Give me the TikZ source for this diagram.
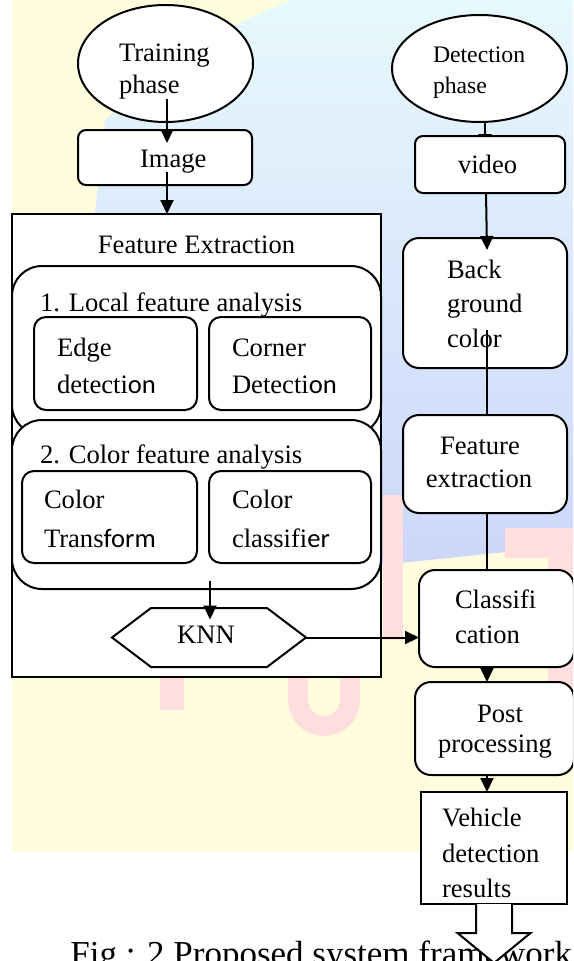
\documentclass[tikz,border=0pt]{standalone}
\usepackage{fontspec}
\setmainfont{Liberation Serif}
\newfontfamily\sansend{Carlito}
\usetikzlibrary{arrows.meta,shapes.geometric}

\pgfdeclarelayer{wm}
\pgfdeclarelayer{under}
\pgfsetlayers{wm,under,main}

\definecolor{wmyellow}{RGB}{255,253,222}
\definecolor{wmcyan}{RGB}{230,249,252}
\definecolor{wmblue}{RGB}{205,214,250}
\definecolor{wmpink}{RGB}{255,222,222}

\newcommand\mainsz{\fontsize{26.6}{32}\selectfont}
\newcommand\smallsz{\fontsize{23.7}{28}\selectfont}
\newcommand\capsz{\fontsize{35}{40}\selectfont}

\tikzset{
  every node/.style={inner sep=0pt, outer sep=0pt},
  outline/.style={draw=black, line width=2pt, fill=white},
  rbox/.style={outline, rectangle, rounded corners=#1},
  rbox/.default=16pt,
  conn/.style={line width=2pt},
  arr/.style={conn, -{Triangle[length=14pt,width=13pt]}},
  lbl/.style={anchor=base west, font=\mainsz},
  clbl/.style={anchor=base, font=\mainsz},
}

\begin{document}
\begin{tikzpicture}[x=1pt,y=-1pt]
\useasboundingbox (0,0) rectangle (573,961);
\clip (0,0) rectangle (573,961);

% faint logo behind the chart
\begin{pgfonlayer}{wm}
  \fill[wmyellow] (12,0) rectangle (573,852);
  \shade[top color=wmcyan, bottom color=wmblue]
    (95,214) -- (105,120) -- (190,45) -- (290,0) -- (573,0) -- (573,545)
    -- (381,565) -- (381,214) -- cycle;
  \fill[wmpink] (160,677) rectangle (184,710);
  \draw[wmpink, line width=20pt] (298,672) -- (298,700)
    arc[start angle=180, end angle=0, radius=26] -- (350,672);
  \fill[wmpink] (383,495) rectangle (403,640);
  \fill[wmpink] (505,528) rectangle (573,558);
  \fill[wmpink] (548,558) rectangle (573,715);
\end{pgfonlayer}

% ---------- training branch ----------
\node[outline, ellipse, minimum width=175pt, minimum height=117pt] (train) at (165.5,63.5) {};
\node[lbl] (trainA) at (119,61) {Training};
\node[lbl] (trainB) at (119,93) {phase};

\node[rbox=8pt, minimum width=174pt, minimum height=55pt] (image) at (165,157.5) {};
\node[lbl] (imageT) at (140,167) {Image};

\node[outline, rectangle, minimum width=369pt, minimum height=463pt] (fe) at (196.5,445.5) {};
\node[clbl] (feT) at (196.5,253) {Feature Extraction};

\node[rbox=30pt, minimum width=369pt, minimum height=169pt] (local) at (196.5,350.5) {};
\node[lbl] (localT) at (40,311) {1. Local feature analysis};
\node[rbox=12pt, minimum width=163pt, minimum height=93pt] (edge) at (115.5,363.5) {};
\node[lbl] (edgeA) at (57,356) {Edge};
\node[lbl] (edgeB) at (57,393) {detecti{\sansend on}};
\node[rbox=12pt, minimum width=162pt, minimum height=93pt] (corner) at (290,363.5) {};
\node[lbl] (cornerA) at (232,356) {Corner};
\node[lbl] (cornerB) at (232,393) {Detecti{\sansend on}};

\node[rbox=30pt, minimum width=369pt, minimum height=169pt] (colour) at (196.5,504.5) {};
\node[lbl] (colourT) at (40,463) {2. Color feature analysis};
\node[rbox=12pt, minimum width=175pt, minimum height=92pt] (transf) at (109.5,517) {};
\node[lbl] (transfA) at (44,508) {Color};
\node[lbl] (transfB) at (44,547) {Trans{\sansend form}};
\node[rbox=12pt, minimum width=162pt, minimum height=92pt] (classr) at (290,517) {};
\node[lbl] (classrA) at (232,508) {Color};
\node[lbl] (classrB) at (232,547) {classifi{\sansend er}};

\node[minimum width=194pt, minimum height=59pt] (knnframe) at (209,637.5) {};
\filldraw[outline] (knnframe.west) -- ([xshift=39pt]knnframe.north west)
  -- ([xshift=-39pt]knnframe.north east) -- (knnframe.east)
  -- ([xshift=-39pt]knnframe.south east) -- ([xshift=39pt]knnframe.south west) -- cycle;
\node[clbl] (knn) at (206,643) {KNN};

% ---------- detection branch ----------
\node[outline, ellipse, minimum width=175pt, minimum height=107pt] (detect) at (479.5,68.5) {};
\node[anchor=base west, font=\smallsz] (detectA) at (433,62) {Detection};
\node[anchor=base west, font=\smallsz] (detectB) at (433,93) {phase};

\node[rbox=8pt, minimum width=150pt, minimum height=57pt] (video) at (490,164.5) {};
\node[lbl] (videoT) at (458,173) {video};

\node[rbox=16pt, minimum width=164pt, minimum height=130pt] (back) at (485,303) {};
\node[lbl] (backA) at (447,278) {Back};
\node[lbl] (backB) at (447,312) {ground};
\node[lbl] (backC) at (447,347) {color};

\node[rbox=16pt, minimum width=164pt, minimum height=98pt] (featx) at (485,464) {};
\node[clbl] (featxA) at (480,454) {Feature};
\node[clbl] (featxB) at (479,487) {extraction};

\node[rbox=16pt, minimum width=155pt, minimum height=97pt] (classif) at (496.5,618.5) {};
\node[lbl] (classifA) at (455,608) {Classifi};
\node[lbl] (classifB) at (455,643) {cation};

\node[rbox=16pt, minimum width=159pt, minimum height=93pt] (post) at (494.5,728.5) {};
\node[clbl] (postA) at (500,722) {Post};
\node[clbl] (postB) at (495,752) {processing};

\node[outline, rectangle, minimum width=146pt, minimum height=112pt] (vehicle) at (494,848) {};
\node[lbl] (vehA) at (442,826) {Vehicle};
\node[lbl] (vehB) at (442,862) {detection};
\node[lbl] (vehC) at (442,897) {results};

% caption, partly covered by the output arrow
\node[anchor=base east, font=\capsz] (caption) at (572,965) {Fig : 2 Proposed system framework};

% output block arrow
\filldraw[outline] (vehicle.south) ++(-18,0) -- ++(0,29) -- ++(-18.5,0)
  -- ++(36.5,30) -- ++(36.5,-30) -- ++(-18.5,0) -- ++(0,-29);

% ---------- connectors ----------
\begin{pgfonlayer}{under}
  \draw[arr] ([xshift=5.5pt,yshift=-29.5pt]detect.center) -- ([xshift=-5pt,yshift=-12pt]video.north);
\end{pgfonlayer}

\draw[arr] ([xshift=1.5pt,yshift=-35pt]train.center) -- ([xshift=2pt,yshift=-13pt]image.north);
\draw[arr] ([xshift=2pt,yshift=-14.5pt]image.center) -- ([xshift=-29.5pt]fe.north);
\draw[arr] ([xshift=13.5pt,yshift=8pt]colour.south) -- ([xshift=1pt,yshift=-11.5pt]knnframe.north);
\draw[arr] (knnframe.east) -- (classif.west |- knnframe.east);

\draw[arr] ([xshift=-4pt]video.south) -- ([xshift=2pt,yshift=-12pt]back.north);
\draw[conn] ([xshift=2pt,yshift=-27pt]back.center) -- ([xshift=2pt]featx.north);
\draw[conn] ([xshift=2pt]featx.south) -- ([xshift=-9.5pt]classif.north);
\draw[arr] ([xshift=-9.5pt]classif.south) -- ([xshift=-7.5pt]post.north);
\draw[arr] ([xshift=-7.5pt]post.south) -- ([xshift=-7pt]vehicle.north);
\end{tikzpicture}
\end{document}
